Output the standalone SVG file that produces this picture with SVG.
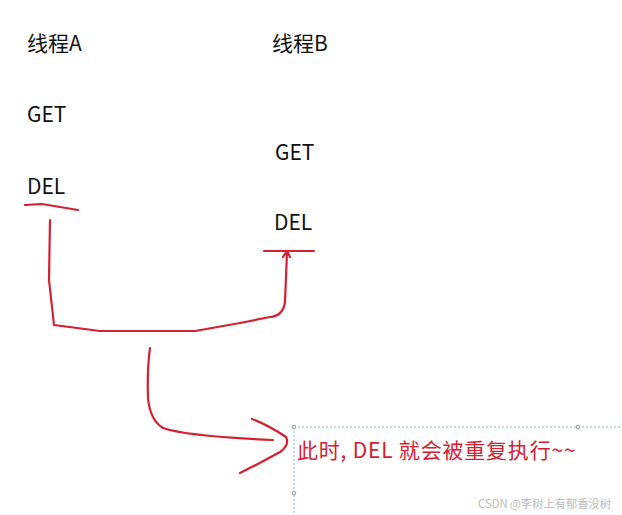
<svg xmlns="http://www.w3.org/2000/svg" width="622" height="515" viewBox="0 0 622 515">
<style>
.t{font-family:"Noto Sans CJK SC","Noto Sans",sans-serif;font-size:21px;fill:#111}
.r{font-family:"Noto Sans CJK SC","Noto Sans",sans-serif;font-size:21px;letter-spacing:0.8px;fill:#d42030}
.w{font-family:"Noto Sans CJK SC","Noto Sans",sans-serif;font-size:11.3px;fill:#bbbbbb}
.ink{fill:none;stroke:#d42030;stroke-width:2.2;stroke-linecap:round;stroke-linejoin:round}
.sel{fill:none;stroke:#8fb0c8;stroke-width:1;stroke-dasharray:2 2}
.h{fill:#fff;stroke:#8a9aa8;stroke-width:1}
</style>
<rect width="622" height="515" fill="#fff"/>
<g id="threadA">
<text class="t" x="27" y="51">线程A</text>
<text class="t" x="27" y="122">GET</text>
<text class="t" x="27" y="194">DEL</text>
</g>
<g id="threadB">
<text class="t" x="272" y="51">线程B</text>
<text class="t" x="275" y="160">GET</text>
<text class="t" x="274" y="230">DEL</text>
</g>
<g id="connectors">
<path class="ink" d="M25,205 L42,204 L72,209 L78,210"/>
<path class="ink" d="M264,251 L314,251"/>
<path class="ink" d="M50,220 L49,280 L54,325 L100,331 L195,331 L240,323 L270,317 Q283,316 285,302 L287,252"/>
<path class="ink" d="M283,257 L287,251 L290,257"/>
<path class="ink" d="M150,348 Q147,370 148,398 Q150,420 163,428 Q185,436 273,440"/>
<path class="ink" d="M252,419 Q268,425 286,437 Q290,445 280,452 Q262,462 240,473"/>
</g>
<g id="note">
<path class="sel" d="M294,427 H622 M294,427 V515"/>
<circle class="h" cx="294" cy="427" r="1.8"/>
<circle class="h" cx="578" cy="427" r="1.8"/>
<circle class="h" cx="294" cy="493" r="1.8"/>
<text class="r" x="297" y="458">此时, DEL 就会被重复执行~~</text>
</g>
<text class="w" x="478" y="508">CSDN @李树上有郁香没树</text>
</svg>
